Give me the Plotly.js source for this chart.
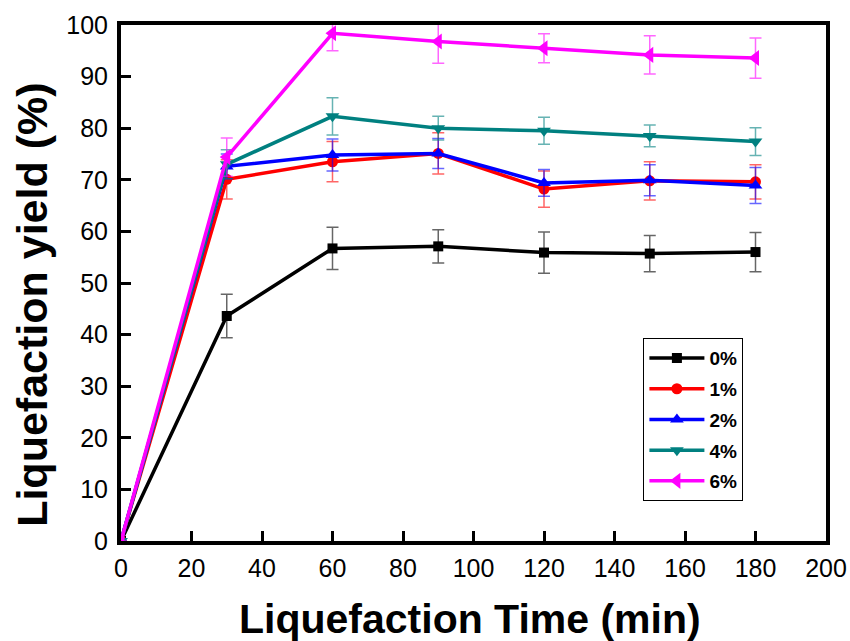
<!DOCTYPE html>
<html>
<head>
<meta charset="utf-8">
<script src="https://cdn.plot.ly/plotly-3.0.1.min.js"></script>
<style>html,body{margin:0;padding:0;background:#fff;}#chart{width:850px;height:641px;}</style>
</head>
<body>
<div id="chart"></div>
<script>
var time = [0, 30, 60, 90, 120, 150, 180];
var seriesNames = ['0%', '1%', '2%', '4%', '6%'];
var y0 = [0, 43.6, 56.7, 57.1, 55.9, 55.7, 56.0];
var e0 = [0, 4.2, 4.1, 3.2, 4.0, 3.5, 3.8];
var y1 = [0, 70.1, 73.5, 75.1, 68.2, 69.8, 69.6];
var e1 = [0, 3.8, 3.9, 4.0, 3.5, 3.7, 3.3];
var y2 = [0, 72.6, 74.8, 75.1, 69.4, 69.9, 68.9];
var e2 = [0, 2.4, 3.1, 2.9, 2.6, 3.0, 3.5];
var y4 = [0, 73.0, 82.3, 80.0, 79.5, 78.5, 77.4];
var e4 = [0, 2.8, 3.6, 2.3, 2.6, 2.1, 2.7];
var y6 = [0, 74.4, 98.4, 96.8, 95.5, 94.2, 93.6];
var e6 = [0, 3.7, 3.4, 4.2, 2.8, 3.7, 3.9];
var xTicks = [0, 20, 40, 60, 80, 100, 120, 140, 160, 180, 200];
var yTicks = [0, 10, 20, 30, 40, 50, 60, 70, 80, 90, 100];
var xTitle = 'Liquefaction Time (min)';
var yTitle = 'Liquefaction yield (%)';

var ys = [y0, y1, y2, y4, y6];
var es = [e0, e1, e2, e4, e6];
var colors = ['#000000', '#ff0000', '#0000ff', '#008080', '#ff00ff'];
var errColors = ['rgba(0,0,0,0.6)', 'rgba(255,0,0,0.6)', 'rgba(0,0,255,0.6)', 'rgba(0,128,128,0.6)', 'rgba(255,0,255,0.6)'];
var symbols = ['square', 'circle', 'triangle-up', 'triangle-down', 'triangle-left'];
var sizes = [10, 11, 12, 12, 14];

var traces = [];
for (var i = 0; i < 5; i++) {
  traces.push({
    x: time, y: ys[i], name: seriesNames[i], type: 'scatter', mode: 'lines+markers',
    legendgroup: 'g' + i,
    line: {color: colors[i], width: 3.5},
    marker: {symbol: symbols[i], size: sizes[i], color: colors[i]},
    error_y: {type: 'data', array: es[i], visible: true, color: errColors[i], thickness: 1.5, width: 6}
  });
}

var layout = {
  width: 850, height: 641,
  margin: {l: 121, r: 24, t: 25, b: 100},
  paper_bgcolor: '#fff', plot_bgcolor: '#fff',
  showlegend: true,
  font: {family: 'Liberation Sans, Arial, sans-serif', color: '#000'},
  xaxis: {
    range: [0, 200], tickvals: xTicks,
    showgrid: false, zeroline: false, showline: true, linecolor: '#000', linewidth: 4, mirror: true,
    ticks: 'inside', ticklen: 10, tickwidth: 3, tickcolor: '#000', ticklabelstandoff: 2,
    tickfont: {family: 'Liberation Sans, Arial, sans-serif', size: 25, color: '#000'}
  },
  yaxis: {
    range: [0, 100], tickvals: yTicks,
    showgrid: false, zeroline: false, showline: true, linecolor: '#000', linewidth: 4, mirror: true,
    ticks: 'inside', ticklen: 10, tickwidth: 3, tickcolor: '#000', ticklabelstandoff: 4,
    tickfont: {family: 'Liberation Sans, Arial, sans-serif', size: 25, color: '#000'}
  },
  annotations: [
    {text: xTitle, xref: 'paper', yref: 'paper', x: 0.495, y: -0.152, xanchor: 'center', yanchor: 'middle', showarrow: false,
     font: {family: 'Liberation Sans, Arial, sans-serif', size: 41, color: '#000', weight: 'bold'}},
    {text: yTitle, xref: 'paper', yref: 'paper', x: -0.126, y: 0.458, xanchor: 'center', yanchor: 'middle', showarrow: false, textangle: -90,
     font: {family: 'Liberation Sans, Arial, sans-serif', size: 43, color: '#000', weight: 'bold'}}
  ],
  legend: {
    x: 0.741, y: 0.393, xanchor: 'left', yanchor: 'top',
    bgcolor: '#fff', bordercolor: '#000', borderwidth: 1,
    font: {family: 'Liberation Sans, Arial, sans-serif', size: 19, color: '#000', weight: 'bold'},
    itemwidth: 55,
    tracegroupgap: 3
  }
};

Plotly.newPlot('chart', traces, layout, {displayModeBar: false, staticPlot: true});
</script>
</body>
</html>
